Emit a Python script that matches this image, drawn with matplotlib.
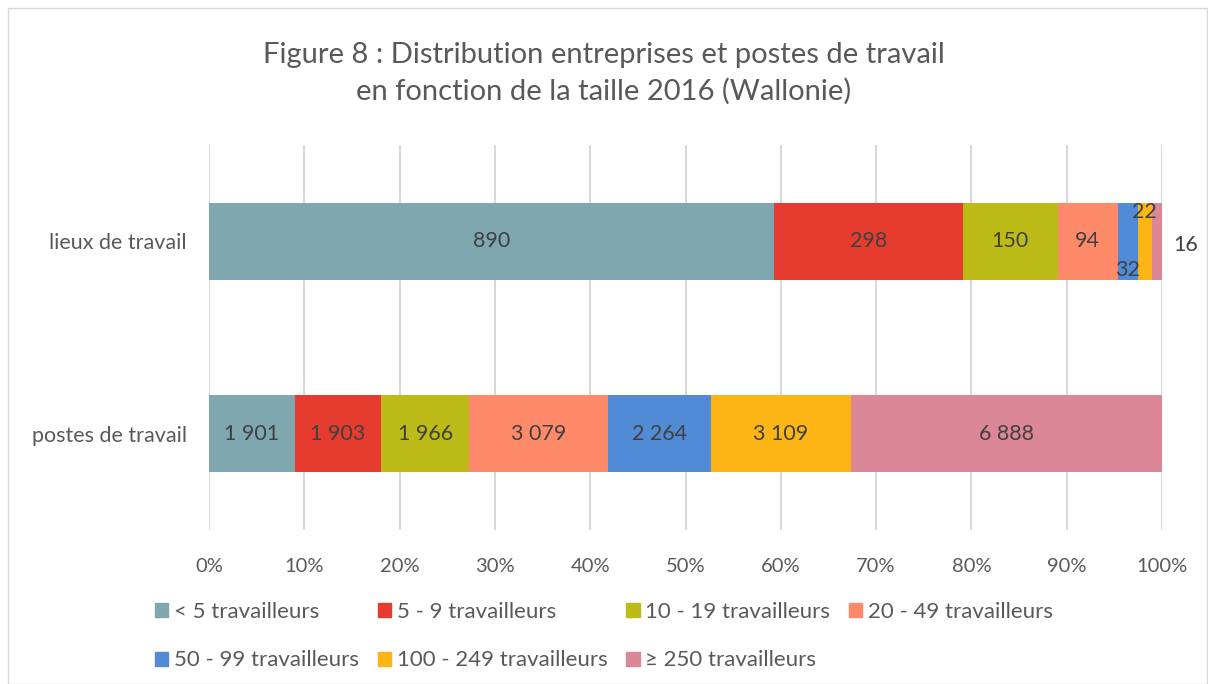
import matplotlib.pyplot as plt
from matplotlib.patches import Rectangle, Patch

plt.rcParams['font.family'] = ['Lato', 'DejaVu Sans']

categories = ["postes de travail", "lieux de travail"]
series = ["< 5 travailleurs", "5 - 9 travailleurs", "10 - 19 travailleurs",
          "20 - 49 travailleurs", "50 - 99 travailleurs",
          "100 - 249 travailleurs", "≥ 250 travailleurs"]
postes = [1901, 1903, 1966, 3079, 2264, 3109, 6888]
lieux = [890, 298, 150, 94, 32, 22, 16]
colors = ["#7FA7AF", "#E63C2F", "#BDBB17", "#FF8A6A", "#518BD5", "#FDB515", "#DB8798"]

txt = "#404040"
lab_fs = 15.5

fig = plt.figure(figsize=(12.08, 6.84), dpi=100)
ax = fig.add_axes([209 / 1208, 1 - 530 / 684, (1162 - 209) / 1208, (530 - 145) / 684])

data = [postes, lieux]
h = 0.4
for row, vals in enumerate(data):
    total = sum(vals)
    left = 0
    for i, v in enumerate(vals):
        w = v / total
        ax.barh(row, w, left=left, height=h, color=colors[i], zorder=2)
        xc = left + w / 2
        lab = f"{v:,}".replace(",", " ")
        if row == 1 and i == 4:
            ax.text(xc, row - 0.15, lab, ha="center", va="center", fontsize=lab_fs, color=txt, zorder=3)
        elif row == 1 and i == 5:
            ax.text(xc, row + 0.15, lab, ha="center", va="center", fontsize=lab_fs, color=txt, zorder=3)
        elif row == 1 and i == 6:
            ax.text(left + w + 0.012, row - 0.02, lab, ha="left", va="center", fontsize=lab_fs, color=txt, zorder=3)
        else:
            ax.text(xc, row, lab, ha="center", va="center", fontsize=lab_fs, color=txt, zorder=3)
        left += w

ax.set_xlim(0, 1)
ax.set_ylim(-0.5, 1.5)
ax.set_xticks([i / 10 for i in range(11)])
ax.set_xticklabels([f"{i * 10}%" for i in range(11)])
ax.set_yticks([0, 1])
ax.set_yticklabels(categories)
ax.grid(axis="x", color="#D9D9D9", linewidth=1.5, zorder=0)
for s in ax.spines.values():
    s.set_visible(False)
ax.tick_params(axis="both", length=0, labelcolor="#595959")
ax.tick_params(axis="x", pad=20, labelsize=14.5)
ax.tick_params(axis="y", pad=16, labelsize=15.5)

fig.text(0.5, 1 - 73 / 684, "Figure 8 : Distribution entreprises et postes de travail\nen fonction de la taille 2016 (Wallonie)",
         ha="center", va="center", fontsize=21, color="#595959", linespacing=1.45)

handles = [Patch(color=c) for c in colors]
order = [0, 4, 1, 5, 2, 6, 3]
fig.legend([handles[i] for i in order], [series[i] for i in order], ncol=4,
           loc="center", bbox_to_anchor=(0.5, 1 - 636 / 684), frameon=False,
           fontsize=16, labelcolor="#595959", handlelength=0.6, handleheight=0.6,
           handletextpad=0.25, columnspacing=0.85, labelspacing=1.3)

fig.patches.append(Rectangle((8 / 1208, 0), 1 - 9 / 1208, 1 - 8 / 684, transform=fig.transFigure,
                             fill=False, edgecolor="#D9D9D9", linewidth=1))

fig.savefig("out.png", dpi=100)
